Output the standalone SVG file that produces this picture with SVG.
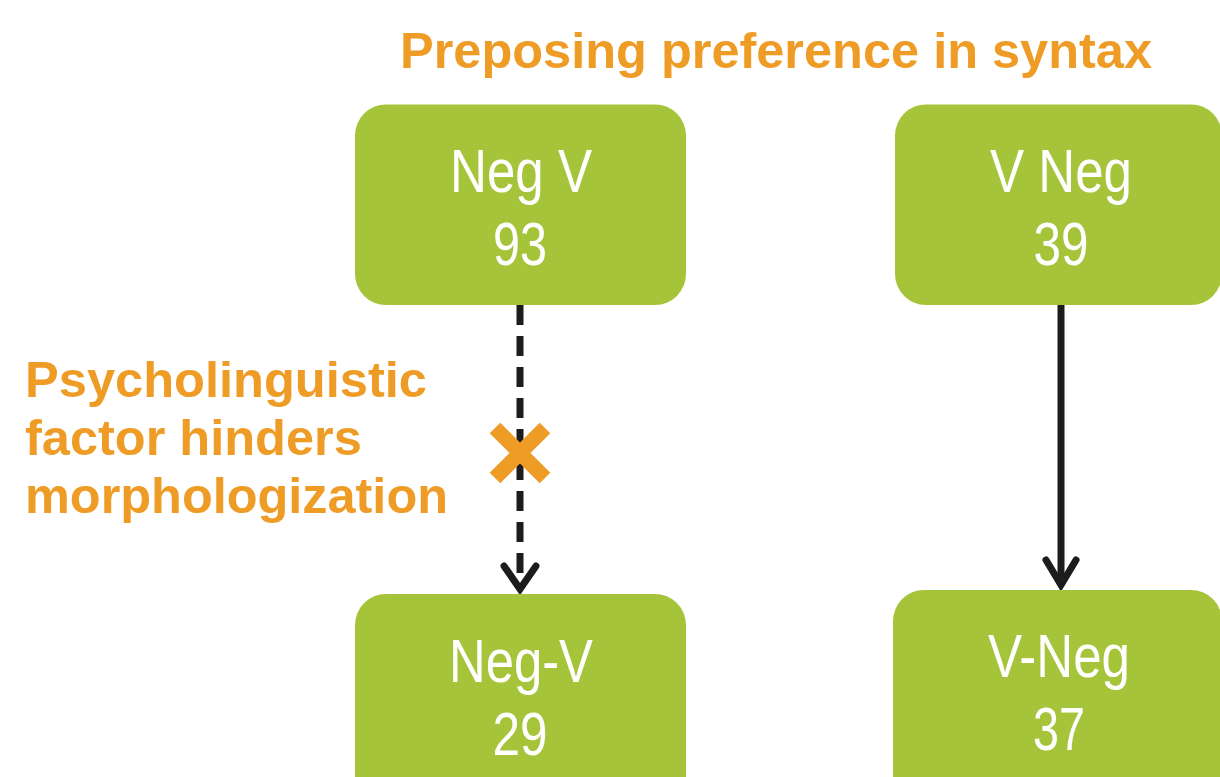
<svg xmlns="http://www.w3.org/2000/svg" width="1220" height="777" viewBox="0 0 1220 777">
<style>
.box{fill:#A6C43A}
.nt{fill:#fff;font-family:"Liberation Sans",Arial,sans-serif;font-size:62px;text-anchor:middle}
.ot{fill:#EE9C26;font-family:"Liberation Sans",Arial,sans-serif;font-size:50px;font-weight:bold}
.lt{font-size:50.5px}
.ln{stroke:#1c1c1c;stroke-width:7;fill:none}
.hd{stroke:#1c1c1c;stroke-width:7;fill:none;stroke-linecap:round;stroke-linejoin:miter}
</style>
<rect width="1220" height="777" fill="#fff"/>
<text class="ot" x="400" y="68" textLength="752" lengthAdjust="spacingAndGlyphs">Preposing preference in syntax</text>
<g id="label">
<text class="ot lt" x="25" y="397" textLength="402" lengthAdjust="spacingAndGlyphs">Psycholinguistic</text>
<text class="ot lt" x="25" y="455">factor hinders</text>
<text class="ot lt" x="25" y="513" textLength="423" lengthAdjust="spacingAndGlyphs">morphologization</text>
</g>
<g id="connectors">
<line class="ln" x1="520" y1="305" x2="520" y2="588" stroke-dasharray="20 11"/>
<polyline class="hd" points="504,566 520,589 536,566"/>
<line class="ln" x1="1061" y1="305" x2="1061" y2="585"/>
<polyline class="hd" points="1046,560 1061,585 1076,560"/>
<g id="xmark" stroke="#EE9C26" stroke-width="15">
<line x1="495" y1="428" x2="545" y2="478"/>
<line x1="545" y1="428" x2="495" y2="478"/>
</g>
</g>
<g id="negV">
<rect class="box" x="355" y="104.5" width="331" height="200.5" rx="31"/>
<text class="nt" x="521" y="192" textLength="142" lengthAdjust="spacingAndGlyphs">Neg V</text>
<text class="nt" x="520" y="265" textLength="54" lengthAdjust="spacingAndGlyphs">93</text>
</g>
<g id="vNeg">
<rect class="box" x="895" y="104.5" width="327" height="200.5" rx="31"/>
<text class="nt" x="1061" y="192" textLength="142" lengthAdjust="spacingAndGlyphs">V Neg</text>
<text class="nt" x="1061" y="265" textLength="55" lengthAdjust="spacingAndGlyphs">39</text>
</g>
<g id="negDashV">
<rect class="box" x="355" y="594" width="331" height="250" rx="31"/>
<text class="nt" x="521" y="682" textLength="144" lengthAdjust="spacingAndGlyphs">Neg-V</text>
<text class="nt" x="520" y="755" textLength="55" lengthAdjust="spacingAndGlyphs">29</text>
</g>
<g id="vDashNeg">
<rect class="box" x="893" y="590" width="329" height="250" rx="31"/>
<text class="nt" x="1059" y="677" textLength="142" lengthAdjust="spacingAndGlyphs">V-Neg</text>
<text class="nt" x="1059" y="750" textLength="52" lengthAdjust="spacingAndGlyphs">37</text>
</g>
</svg>
